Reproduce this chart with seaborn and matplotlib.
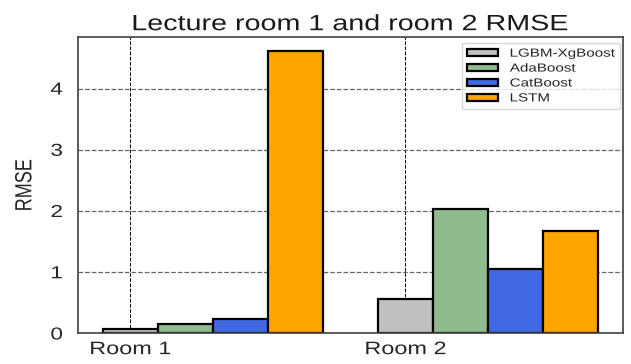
import matplotlib
matplotlib.use("Agg")
import matplotlib.pyplot as plt
from matplotlib.patheffects import AbstractPathEffect
from matplotlib.patches import BoxStyle
from matplotlib.transforms import Affine2D
import seaborn as sns
import pandas as pd

rooms = ["Room 1", "Room 2"]
models = ["LGBM-XgBoost", "AdaBoost", "CatBoost", "LSTM"]
room1_rmse = [0.07, 0.15, 0.23, 4.61]
room2_rmse = [0.57, 2.03, 1.05, 1.67]
colors = ["silver", "darkseagreen", "royalblue", "orange"]

TEXT_WIDEN = 1.3  # horizontal widening applied to all text


class WideText(AbstractPathEffect):
    """Draw text widened horizontally about its left, centre or right edge."""

    def __init__(self, sx=TEXT_WIDEN, anchor="center"):
        super().__init__()
        self.sx = sx
        self.anchor = anchor

    def draw_path(self, renderer, gc, tpath, affine, rgbFace=None):
        ext = tpath.transformed(affine).get_extents()
        if self.anchor == "left":
            x_ref = ext.x0
        elif self.anchor == "right":
            x_ref = ext.x1
        else:
            x_ref = 0.5 * (ext.x0 + ext.x1)
        widen = Affine2D().translate(-x_ref, 0).scale(self.sx, 1).translate(x_ref, 0)
        renderer.draw_path(gc, tpath, affine + widen, rgbFace)


class WideFrame:
    """Rounded legend frame with extra room on the right for widened labels."""

    def __init__(self, extra):
        self.extra = extra
        self.base = BoxStyle.Round(pad=0, rounding_size=0.2)

    def __call__(self, x0, y0, width, height, mutation_size):
        return self.base(x0, y0, width + self.extra * mutation_size, height, mutation_size)


df = pd.DataFrame({
    "Room": [rooms[0]] * len(models) + [rooms[1]] * len(models),
    "Model": models * 2,
    "RMSE": room1_rmse + room2_rmse,
})

sns.set_style("white")
plt.rcParams["font.family"] = ["Liberation Sans", "DejaVu Sans"]

fig, ax = plt.subplots(figsize=(6.31, 3.64), dpi=100)
fig.subplots_adjust(left=0.1236, right=0.987, top=0.898, bottom=0.0838)

sns.barplot(data=df, x="Room", y="RMSE", hue="Model", hue_order=models,
            palette=colors, width=0.8, edgecolor="black", linewidth=1.6,
            saturation=1, ax=ax, errorbar=None)

ax.set_axisbelow(True)
ax.xaxis.grid(True, color="black", linestyle="--", linewidth=0.7)
ax.yaxis.grid(True, color="0.4", linestyle="--", linewidth=0.9)

# labels sit under the first bar of each group
ax.set_xticks([-0.3, 0.7])
ax.set_xticklabels(rooms, fontsize=13)
ax.set_xlim(-0.49, 1.49)
ax.set_ylim(0, 4.84)
ax.set_yticks([0, 1, 2, 3, 4])
ax.tick_params(axis="y", labelsize=12.5, length=0, pad=11)
ax.tick_params(axis="x", length=0, pad=5.5)
ax.set_xlabel("")
ax.set_ylabel("RMSE", fontsize=13, labelpad=14)
title = ax.set_title("Lecture room 1 and room 2 RMSE", fontsize=15.9, pad=5,
                     color="0.1")

for s in ax.spines.values():
    s.set_visible(True)
    s.set_color("0.25")
    s.set_linewidth(1.2)

for lab in ax.get_xticklabels():
    lab.set_path_effects([WideText(anchor="center")])
for lab in ax.get_yticklabels():
    lab.set_path_effects([WideText(anchor="right")])
ax.yaxis.label.set_path_effects([WideText(anchor="center")])
title.set_path_effects([WideText(anchor="center")])

leg_fs = 8.4
leg = ax.legend(loc="upper right", fontsize=leg_fs, frameon=True,
                handlelength=2.7, handleheight=0.55, handletextpad=1.0,
                borderpad=0.4, labelspacing=0.25, borderaxespad=0.5)
leg.get_frame().set_edgecolor("0.8")

# widen the legend frame to hold the widened labels, and shift it left to fit
fig.canvas.draw()
renderer = fig.canvas.get_renderer()
fs_px = leg_fs * fig.dpi / 72
longest = max(t.get_window_extent(renderer).width for t in leg.get_texts())
extra_px = (TEXT_WIDEN - 1) * longest
ax_w = ax.get_window_extent(renderer).width
leg.set_bbox_to_anchor((1 - (extra_px - 3) / ax_w, 1), transform=ax.transAxes)
leg.get_frame().set_boxstyle(WideFrame(extra_px / fs_px))
for t in leg.get_texts():
    t.set_path_effects([WideText(anchor="left")])

fig.savefig("out.png", dpi=100)
